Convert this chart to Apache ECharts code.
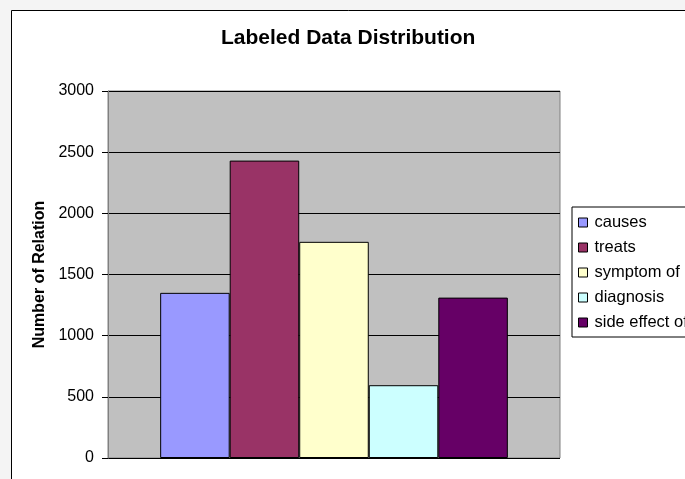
<!DOCTYPE html>
<html>
<head>
<meta charset="utf-8">
<script src="https://cdn.jsdelivr.net/npm/echarts@6/dist/echarts.min.js"></script>
<style>
  html, body { margin: 0; padding: 0; background: #f4f4f4; }
  #chart { width: 685px; height: 479px; }
</style>
</head>
<body>
<div id="chart"></div>
<script>
// Relation types and how many labeled examples each one has
const categories = [''];
const relationNames = ['causes', 'treats', 'symptom of', 'diagnosis', 'side effect of'];
const relationCounts = [1350, 2431, 1767, 595, 1311];
const barColors = ['#9999FF', '#993366', '#FFFFCC', '#CCFFFF', '#660066'];
const yTicks = { min: 0, max: 3000, step: 500 };

const FONT = "'Liberation Sans', Arial, sans-serif";

const chart = echarts.init(document.getElementById('chart'), null, { renderer: 'canvas' });

const series = relationNames.map((name, i) => ({
  name: name,
  type: 'bar',
  data: [relationCounts[i]],
  barGap: '0%',
  barCategoryGap: '23.08%',
  itemStyle: { color: barColors[i], borderColor: '#000', borderWidth: 1 },
  emphasis: { disabled: true },
  animation: false
}));

chart.setOption({
  animation: false,
  backgroundColor: 'transparent',
  textStyle: { fontFamily: FONT },
  graphic: [{
    type: 'rect',
    z: -10,
    silent: true,
    shape: { x: 11.5, y: 10.5, width: 720, height: 520 },
    style: { fill: '#ffffff', stroke: '#000000', lineWidth: 1 }
  }],
  title: {
    text: 'Labeled Data Distribution',
    left: 221,
    top: 28,
    padding: 0,
    textStyle: { fontFamily: FONT, fontSize: 21, fontWeight: 'bold', color: '#000' }
  },
  legend: {
    orient: 'vertical',
    left: 572,
    top: 207,
    padding: [7, 30, 6, 6],
    itemGap: 8,
    itemWidth: 9,
    itemHeight: 9,
    icon: 'rect',
    backgroundColor: '#ffffff',
    borderColor: '#000000',
    borderWidth: 1,
    borderRadius: 0,
    selectedMode: false,
    itemStyle: { borderColor: '#000', borderWidth: 1 },
    textStyle: { fontFamily: FONT, fontSize: 16.5, color: '#000', lineHeight: 16, padding: [0, 0, 0, 2] },
    data: relationNames
  },
  grid: {
    show: true,
    left: 108,
    top: 91,
    right: 125,
    bottom: 21,
    backgroundColor: '#c0c0c0',
    borderColor: '#808080',
    borderWidth: 1,
    containLabel: false
  },
  xAxis: {
    type: 'category',
    data: categories,
    axisLine: { show: false },
    axisTick: { show: false },
    axisLabel: { show: false },
    splitLine: { show: false }
  },
  yAxis: {
    type: 'value',
    min: yTicks.min,
    max: yTicks.max,
    interval: yTicks.step,
    name: 'Number of Relation',
    nameLocation: 'middle',
    nameGap: 56,
    nameTextStyle: { fontFamily: FONT, fontSize: 16, fontWeight: 'bold', color: '#000' },
    axisLine: { show: true, lineStyle: { color: '#808080', width: 1 } },
    axisTick: { show: true, inside: false, length: 6, lineStyle: { color: '#000', width: 1 } },
    axisLabel: { fontFamily: FONT, fontSize: 16, color: '#000', margin: 14, formatter: (v) => String(v) },
    splitLine: { show: true, lineStyle: { color: '#000', width: 1 } }
  },
  series: series
});
</script>
</body>
</html>
